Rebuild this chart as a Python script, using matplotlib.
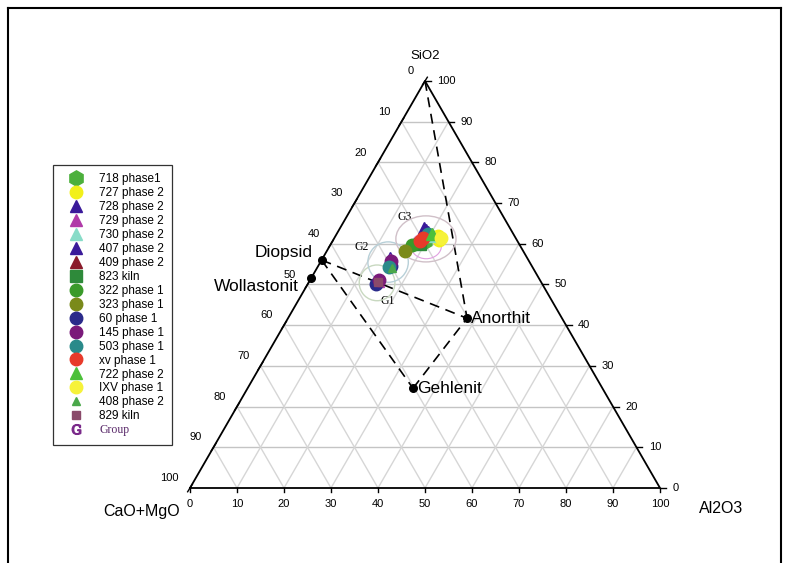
import matplotlib
matplotlib.use("Agg")
import matplotlib.pyplot as plt
import numpy as np
from matplotlib.lines import Line2D
from matplotlib.patches import Ellipse

plt.rcParams['font.family'] = ['Liberation Sans', 'DejaVu Sans']
plt.rcParams['mathtext.fontset'] = 'dejavuserif'

# samples: name, colour, marker, SiO2 values, Al2O3 values (wt %), CaO+MgO = rest
names = ["718 phase1", "727 phase 2", "728 phase 2", "729 phase 2", "730 phase 2",
         "407 phase 2", "409 phase 2", "823 kiln", "322 phase 1", "323 phase 1",
         "60 phase 1", "145 phase 1", "503 phase 1", "xv phase 1", "722 phase 2",
         "IXV phase 1", "408 phase 2", "829 kiln"]
colors = ["#4cb03c", "#f2f01a", "#3a1a9a", "#b03aa8", "#88dcc8",
          "#3a1a9a", "#8a1a2a", "#2e8a3a", "#3a9a2a", "#7a8a1a",
          "#2a2a8a", "#7a1a7a", "#2a8a8a", "#e83a2a", "#4cc03a",
          "#f6f23a", "#4aa84a", "#8a4a6a"]
markers = ["h", "o", "^", "^", "^", "^", "^", "s", "o", "o",
           "o", "o", "o", "o", "^", "o", "^", "s"]
sio2 = [[60.5, 61.5], [61.8, 61.0], [56.5, 63.8], [50.8, 56.0], [62.0],
        [63.5, 62.8], [55.3], [60.0], [59.6], [58.3],
        [50.2, 54.5], [51.0, 55.8], [54.2, 62.3], [60.8, 61.3], [62.5],
        [61.3], [54.0], [50.5]]
al2o3 = [[20.0, 19.8], [21.8, 22.5], [14.2, 17.8], [14.6, 14.5], [20.8],
         [18.5, 19.2], [14.6], [19.0], [17.4], [16.6],
         [14.4, 15.5], [14.8, 14.8], [15.2, 19.5], [18.6, 19.0], [20.2],
         [22.8], [16.0], [14.7]]

# reference minerals
min_names = ["Diopsid", "Wollastonit", "Anorthit", "Gehlenit"]
min_sio2 = [56.0, 51.5, 41.7, 24.5]
min_al2o3 = [0.0, 0.0, 38.1, 35.2]

# groups (centre SiO2, Al2O3, width, height)
grp_names = ["G1", "G2", "G3"]
grp_sio2 = [50.4, 55.5, 61.2]
grp_al2o3 = [14.6, 14.4, 19.6]
grp_w = [7.6, 8.6, 12.8]
grp_h = [7.6, 8.6, 9.8]

ticks = list(range(0, 101, 10))
H = np.sqrt(3) / 2


def xy(s, a):
    s = np.asarray(s, float)
    a = np.asarray(a, float)
    return a + s / 2, s * H


fig = plt.figure(figsize=(7.92, 5.63), dpi=100)
ax = fig.add_axes([0, 0, 1, 1])
ax.set_xlim(-190 / 4.7, (792 - 190) / 4.7)
ax.set_ylim((488 - 563) / 4.7, 488 / 4.7)
ax.axis('off')

# frame round the picture
fig.add_artist(Line2D([8 / 792, 8 / 792], [0, 1 - 8 / 563], color='black', lw=1.5))
fig.add_artist(Line2D([8 / 792, 781 / 792], [1 - 8 / 563, 1 - 8 / 563], color='black', lw=1.5))
fig.add_artist(Line2D([781 / 792, 781 / 792], [0, 1 - 8 / 563], color='black', lw=1.5))

# grid
for v in ticks[1:-1]:
    x1, y1 = xy(v, 0)
    x2, y2 = xy(v, 100 - v)
    ax.plot([x1, x2], [y1, y2], color='#c4c4c4', lw=1, zorder=1)
    x1, y1 = xy(0, v)
    x2, y2 = xy(100 - v, v)
    ax.plot([x1, x2], [y1, y2], color='#d6d6d6', lw=1, zorder=1)
    x1, y1 = xy(0, 100 - v)
    x2, y2 = xy(100 - v, 0)
    ax.plot([x1, x2], [y1, y2], color='#d6d6d6', lw=1, zorder=1)

# triangle
tx, ty = xy([0, 0, 100, 0], [0, 100, 0, 0])
ax.plot(tx, ty, color='black', lw=1.3, zorder=3)

# ticks and labels
for v in ticks:
    # bottom: Al2O3
    x, y = xy(0, v)
    ax.plot([x, x], [y, y - 0.9], color='black', lw=1, zorder=3)
    ax.text(x, y - 3.5, str(v), ha='center', va='center', fontsize=8)
    # right: SiO2
    x, y = xy(v, 100 - v)
    ax.plot([x, x + 1.2], [y, y], color='black', lw=1, zorder=3)
    ax.text(x + 2.6, y, str(v), ha='left', va='center', fontsize=8)
    # left: CaO+MgO
    x, y = xy(100 - v, 0)
    ax.plot([x - 0.5, x + 0.5], [y - 0.8, y + 0.8], color='black', lw=1, zorder=3)
    ax.text(x - 2.4, y + 2.1, str(v), ha='right', va='center', fontsize=8)

sx, sy = xy(100, 0)
ax.text(sx, sy + 5.3, "SiO2", ha='center', va='center', fontsize=9.5)
ax.text(-10.4, -5.1, "CaO+MgO", ha='center', va='center', fontsize=11.5)
ax.text(113.0, -4.3, "Al2O3", ha='center', va='center', fontsize=11.5)

# tie lines
pairs = [(0, 2), (0, 3), (3, 2)]
for i, j in pairs:
    x1, y1 = xy(min_sio2[i], min_al2o3[i])
    x2, y2 = xy(min_sio2[j], min_al2o3[j])
    ax.plot([x1, x2], [y1, y2], color='black', lw=1.2, ls=(0, (6, 4)), zorder=4)
x1, y1 = xy(100, 0)
x2, y2 = xy(min_sio2[2], min_al2o3[2])
ax.plot([x1, x2], [y1, y2], color='black', lw=1.2, ls=(0, (6, 4)), zorder=4)

# minerals
mx, my = xy(min_sio2, min_al2o3)
ax.scatter(mx, my, s=30, color='black', zorder=6)
offs = [(-1.9, 1.7, 'right'), (-2.6, -1.7, 'right'), (0.8, 0, 'left'), (0.8, 0, 'left')]
for k in range(len(min_names)):
    dx, dy, ha = offs[k]
    ax.text(mx[k] + dx, my[k] + dy, min_names[k], ha=ha, va='center', fontsize=12.5)

# group circles
gcol = ['#c8d8c0', '#b8d0d8', '#d0c0c8']
for k in range(3):
    cx, cy = xy(grp_sio2[k], grp_al2o3[k])
    ax.add_patch(Ellipse((cx, cy), grp_w[k], grp_h[k], fill=False,
                         ec=gcol[k], lw=1, zorder=4))
ax.add_patch(Ellipse(xy(59.5, 20.5), 6.5, 5.5, fill=False, ec='#e0a0e0', lw=0.8, zorder=4))
glab = [(2.3, -3.8), (-5.6, 3.3), (-4.6, 4.6)]
for k in range(3):
    cx, cy = xy(grp_sio2[k], grp_al2o3[k])
    ax.text(cx + glab[k][0], cy + glab[k][1], grp_names[k], ha='center', va='center',
            fontsize=8.5, family=['Liberation Serif', 'DejaVu Serif'])

# samples
handles = []
for k in range(len(names)):
    px, py = xy(sio2[k], al2o3[k])
    ms = 6 if names[k] in ("829 kiln", "408 phase 2") else 9
    ax.plot(px, py, ls='none', marker=markers[k], color=colors[k], ms=ms,
            mec=colors[k], zorder=5)
    lms = 6 if names[k] in ("829 kiln", "408 phase 2") else 9
    if names[k] == "718 phase1":
        lms = 11
    handles.append(Line2D([], [], ls='none', marker=markers[k], color=colors[k],
                          ms=lms, mec=colors[k], label=names[k]))
handles.append(Line2D([], [], ls='none', marker=r'$\mathrm{G}$', color='#7a2a8a',
                      ms=7, label="Group"))

leg = fig.legend(handles=handles, loc='upper left', bbox_to_anchor=(53 / 792, 1 - 165 / 563),
                 fontsize=8.5, frameon=True, fancybox=False, edgecolor='black',
                 labelspacing=0.165, handletextpad=0.7, borderpad=0.7,
                 handlelength=2.5, borderaxespad=0)
leg.get_frame().set_linewidth(0.9)
leg.get_texts()[-1].set_fontfamily(['Liberation Serif', 'DejaVu Serif'])
leg.get_texts()[-1].set_color('#5a2a6a')

fig.savefig("out.png", dpi=100)
